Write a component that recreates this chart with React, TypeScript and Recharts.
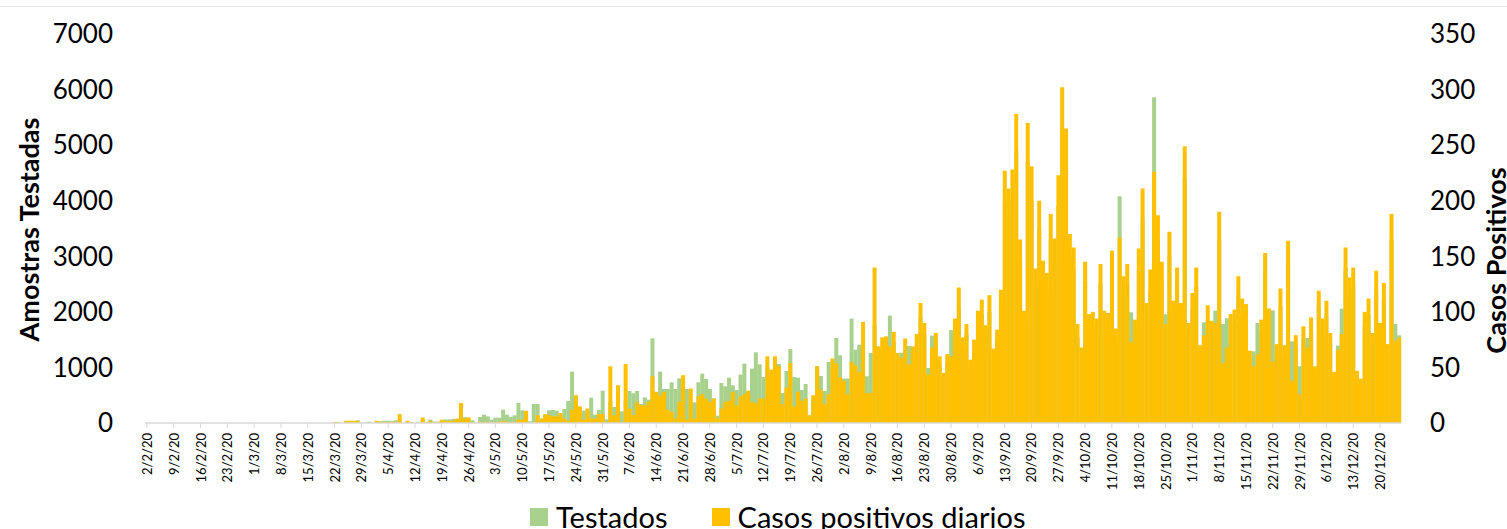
import { ComposedChart, Bar, XAxis, YAxis } from 'recharts'

// amostras testadas por dia, a partir de 2/2/20 (uma linha por semana)
const testados = [
    0, 0, 0, 0, 0, 0, 0,
    0, 0, 0, 0, 0, 0, 0,
    0, 0, 0, 0, 0, 0, 0,
    0, 0, 0, 0, 0, 0, 0,
    0, 0, 0, 0, 0, 0, 0,
    0, 0, 0, 0, 0, 0, 0,
    0, 0, 0, 0, 0, 0, 0,
    0, 10, 0, 20, 25, 30, 48,
    5, 10, 24, 0, 20, 35, 40,
    40, 35, 48, 20, 0, 20, 10,
    5, 10, 40, 15, 60, 25, 25,
    40, 65, 65, 75, 50, 120, 105,
    70, 48, 12, 108, 150, 120, 60,
    96, 96, 240, 150, 114, 138, 360,
    228, 150, 30, 342, 342, 78, 140,
    228, 234, 222, 150, 252, 396, 924,
    480, 260, 222, 230, 456, 150, 234,
    582, 66, 380, 288, 300, 210, 400,
    576, 534, 576, 342, 462, 420, 1524,
    560, 924, 612, 612, 732, 612, 804,
    640, 612, 372, 372, 732, 888, 792,
    612, 444, 132, 720, 660, 816, 678,
    594, 870, 1068, 560, 978, 1272, 1056,
    828, 1000, 900, 1100, 1062, 540, 936,
    1332, 828, 816, 594, 702, 138, 420,
    1026, 846, 576, 1098, 1000, 1530, 1218,
    798, 800, 1878, 1320, 1410, 1300, 840,
    1260, 1758, 1200, 1350, 1400, 1932, 1450,
    1100, 1266, 1300, 1386, 1150, 1350, 1900,
    1600, 990, 1572, 1400, 1050, 800, 1100,
    1674, 1650, 2100, 1350, 1600, 1000, 1300,
    1800, 1950, 1550, 2000, 1200, 1500, 2100,
    4000, 3700, 4000, 4900, 2900, 1800, 4700,
    4000, 2450, 3500, 2550, 2400, 3300, 2900,
    3900, 5300, 4600, 3000, 2750, 1550, 1200,
    2550, 1700, 1750, 1650, 2500, 1780, 1740,
    2700, 1500, 4080, 2300, 2500, 1992, 1650,
    2750, 3700, 1900, 2400, 5862, 3300, 2550,
    1956, 3000, 1950, 2450, 1900, 4400, 1600,
    2050, 2450, 1250, 1812, 1850, 1620, 2022,
    3300, 1782, 1884, 1720, 1800, 2300, 1950,
    1880, 1150, 1290, 1800, 1640, 2700, 1800,
    2028, 1250, 2100, 1230, 2850, 1470, 1380,
    1020, 1520, 1530, 1650, 900, 2100, 1650,
    1920, 1420, 820, 1392, 2058, 2780, 2300,
    2450, 830, 700, 1750, 1950, 1420, 2400,
    1580, 2200, 1250, 3300, 1782, 1578,
]

// casos positivos diarios (eixo da direita)
const casos = [
    0, 0, 0, 0, 0, 0, 0,
    0, 0, 0, 0, 0, 0, 0,
    0, 0, 0, 0, 0, 0, 0,
    0, 0, 0, 0, 0, 0, 0,
    0, 0, 0, 0, 0, 0, 0,
    0, 0, 0, 0, 0, 0, 0,
    0, 0, 0, 0, 0, 0, 0,
    1, 1, 0, 2, 2, 2, 2,
    0, 0, 0, 0, 2, 1, 1,
    1, 1, 1, 8, 0, 2, 1,
    0, 0, 5, 1, 2, 1, 1,
    3, 2, 2, 2, 4, 18, 4,
    5, 1, 0, 1, 1, 1, 0,
    1, 1, 2, 1, 1, 1, 3,
    3, 11, 0, 1, 7, 4, 8,
    7, 6, 6, 9, 4, 2, 12,
    25, 15, 3, 13, 4, 4, 8,
    8, 1, 51, 7, 34, 1, 53,
    13, 7, 19, 16, 16, 19, 42,
    28, 25, 28, 12, 10, 4, 19,
    43, 3, 31, 4, 24, 26, 22,
    19, 22, 4, 13, 19, 20, 28,
    16, 24, 26, 29, 19, 18, 22,
    22, 60, 48, 60, 51, 17, 32,
    54, 15, 28, 20, 22, 7, 25,
    51, 30, 17, 26, 58, 54, 41,
    38, 26, 55, 52, 46, 91, 27,
    27, 140, 69, 77, 78, 69, 82,
    63, 59, 76, 53, 69, 80, 108,
    90, 44, 68, 81, 60, 45, 62,
    60, 94, 122, 77, 89, 57, 75,
    101, 111, 88, 115, 67, 84, 120,
    227, 211, 228, 278, 165, 101, 270,
    231, 139, 200, 146, 135, 188, 166,
    223, 302, 265, 170, 158, 89, 68,
    145, 98, 100, 94, 143, 101, 99,
    155, 85, 167, 132, 143, 73, 93,
    157, 211, 108, 138, 226, 187, 145,
    89, 172, 110, 140, 108, 249, 90,
    117, 140, 70, 79, 106, 92, 90,
    190, 54, 68, 98, 102, 132, 112,
    107, 65, 51, 62, 93, 153, 103,
    55, 71, 121, 70, 164, 38, 79,
    26, 87, 68, 95, 51, 119, 94,
    110, 81, 46, 66, 80, 158, 131,
    140, 47, 40, 100, 112, 81, 137,
    90, 126, 71, 188, 74, 77,
]

const ticksEsq = [0, 1000, 2000, 3000, 4000, 5000, 6000, 7000]
const ticksDir = [0, 50, 100, 150, 200, 250, 300, 350]

// rótulos das datas (d/m/20), um por dia a partir de 2/2/2020
const datas = testados.map((_, i) => {
    const d = new Date(2020, 1, 2 + i)
    return `${d.getDate()}/${d.getMonth() + 1}/20`
})

const data = datas.map((date, i) => ({ date, testados: testados[i], casos: casos[i] }))

const VERDE = '#A9D18E'
const AMARELO = '#FFC000'
const FONTE = 'Lato, "Open Sans", sans-serif'

function DateTick({ x, y, payload }: any) {
    return (
        <text
            transform={`translate(${x},${y + 3}) rotate(-90)`}
            textAnchor="end"
            dominantBaseline="central"
            fontSize={13}
            fontFamily={FONTE}
            fill="#000"
        >
            {payload.value}
        </text>
    )
}

export default function App() {
    return (
        <div style={{ position: 'absolute', left: 0, top: 0, width: 1507, height: 529, background: '#fff', overflow: 'hidden', fontFamily: FONTE }}>
            <div style={{ position: 'absolute', left: 0, top: 6, width: 1507, height: 1, background: '#e3e3e3' }} />
            <ComposedChart
                width={1507}
                height={529}
                data={data}
                margin={{ top: 34, right: 0, left: 0, bottom: 0 }}
                barCategoryGap={0}
                barGap={0}
            >
                <XAxis
                    xAxisId="a"
                    dataKey="date"
                    interval={6}
                    height={106}
                    tick={<DateTick />}
                    tickSize={5}
                    tickLine={{ stroke: '#d9d9d9' }}
                    axisLine={{ stroke: '#d9d9d9', strokeWidth: 1.5 }}
                />
                <XAxis xAxisId="b" dataKey="date" hide />
                <YAxis
                    yAxisId="esq"
                    width={145}
                    domain={[0, 7000]}
                    ticks={ticksEsq}
                    tickSize={0}
                    tickMargin={32}
                    axisLine={false}
                    tickLine={false}
                    tick={{ fill: '#000', fontSize: 26, fontFamily: FONTE }}
                    label={({ viewBox }: any) => (
                        <text
                            transform={`translate(${viewBox.x + 28},${viewBox.y + viewBox.height / 2 + 1}) rotate(-90)`}
                            textAnchor="middle"
                            dominantBaseline="central"
                            fontSize={27}
                            fontWeight="bold"
                            fontFamily={FONTE}
                            fill="#000"
                        >
                            Amostras Testadas
                        </text>
                    )}
                />
                <YAxis
                    yAxisId="dir"
                    orientation="right"
                    width={106}
                    domain={[0, 350]}
                    ticks={ticksDir}
                    tickSize={0}
                    tickMargin={29}
                    axisLine={false}
                    tickLine={false}
                    tick={{ fill: '#000', fontSize: 26, fontFamily: FONTE }}
                    label={({ viewBox }: any) => (
                        <text
                            transform={`translate(${viewBox.x + 94},${viewBox.y + viewBox.height / 2 + 32}) rotate(-90)`}
                            textAnchor="middle"
                            dominantBaseline="central"
                            fontSize={27}
                            fontWeight="bold"
                            fontFamily={FONTE}
                            fill="#000"
                        >
                            Casos Positivos
                        </text>
                    )}
                />
                <Bar xAxisId="a" yAxisId="esq" dataKey="testados" name="Testados" fill={VERDE} isAnimationActive={false} />
                <Bar xAxisId="b" yAxisId="dir" dataKey="casos" name="Casos positivos diarios" fill={AMARELO} isAnimationActive={false} />
            </ComposedChart>
            <div style={{ position: 'absolute', left: 530, top: 499, display: 'flex', alignItems: 'center', fontSize: 29, lineHeight: '36px', color: '#000' }}>
                <span style={{ width: 18, height: 18, background: VERDE, marginRight: 8 }} />
                <span style={{ marginRight: 44 }}>Testados</span>
                <span style={{ width: 18, height: 18, background: AMARELO, marginRight: 8 }} />
                <span>Casos positivos diarios</span>
            </div>
        </div>
    )
}
